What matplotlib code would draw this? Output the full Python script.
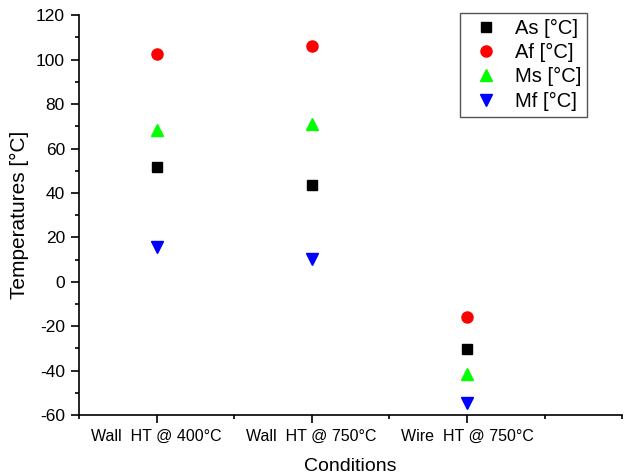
import matplotlib
matplotlib.use("Agg")
import matplotlib.pyplot as plt
from matplotlib.ticker import MultipleLocator

plt.rcParams["font.family"] = ["Liberation Sans", "DejaVu Sans"]
plt.rcParams["axes.unicode_minus"] = False

conditions = ["Wall  HT @ 400°C", "Wall  HT @ 750°C", "Wire  HT @ 750°C"]
positions = [1, 2, 3]
as_temp = [51.5, 43.5, -30.3]
af_temp = [102.4, 106.3, -15.7]
ms_temp = [68.2, 71.0, -41.5]
mf_temp = [15.5, 10.3, -54.6]

fig = plt.figure(figsize=(6.26, 4.75), dpi=100)
ax = fig.add_axes([0.126, 0.126, 0.868, 0.842])

ax.plot(positions, as_temp, ls="none", marker="s", ms=7, color="black", label="As [°C]")
ax.plot(positions, af_temp, ls="none", marker="o", ms=8, color="#ff0000", label="Af [°C]")
ax.plot(positions, ms_temp, ls="none", marker="^", ms=9, color="#00ff00", label="Ms [°C]")
ax.plot(positions, mf_temp, ls="none", marker="v", ms=9, color="#0000ff", label="Mf [°C]")

ax.set_xlim(0.5, 4.0)
ax.set_ylim(-60, 120)
ax.set_xticks(positions)
ax.set_xticklabels(conditions, fontsize=11.5)
ax.xaxis.set_minor_locator(MultipleLocator(0.5))
ax.yaxis.set_major_locator(MultipleLocator(20))
ax.yaxis.set_minor_locator(MultipleLocator(10))
ax.tick_params(axis="both", which="major", direction="out", length=6, width=1.2, pad=4)
ax.tick_params(axis="y", which="major", labelsize=12.5)
ax.tick_params(axis="both", which="minor", direction="out", length=3, width=1.2)

for s in ["top", "right"]:
    ax.spines[s].set_visible(False)
for s in ["left", "bottom"]:
    ax.spines[s].set_linewidth(1.2)

ax.set_xlabel("Conditions", fontsize=14, labelpad=10)
ax.set_ylabel("Temperatures [°C]", fontsize=15, labelpad=5)

leg = ax.legend(loc="upper right", bbox_to_anchor=(0.935, 1.005), borderaxespad=0,
                fontsize=14.5, fancybox=False, edgecolor="#555555", framealpha=1,
                handlelength=2.0, handletextpad=0.4, borderpad=0.3, labelspacing=0.25)
leg.get_frame().set_linewidth(1.0)

fig.savefig("out.png", dpi=100)
